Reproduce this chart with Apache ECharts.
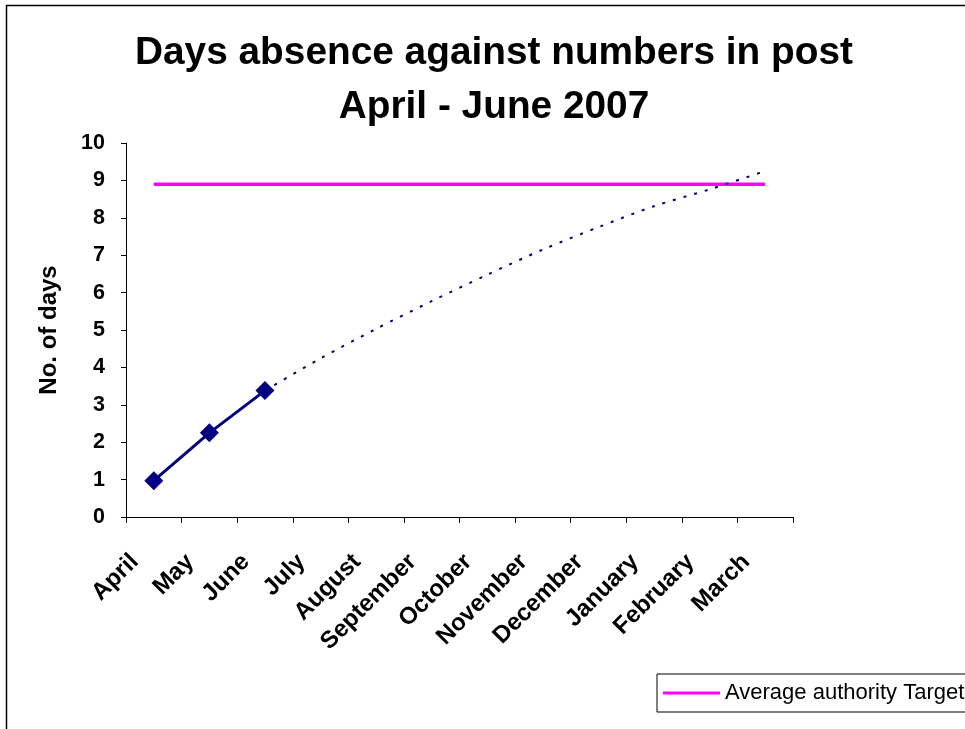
<!DOCTYPE html>
<html>
<head>
<meta charset="utf-8">
<script src="https://cdn.jsdelivr.net/npm/echarts@6/dist/echarts.min.js"></script>
<style>
  html, body { margin: 0; padding: 0; background: #fff; }
  #chart { width: 965px; height: 729px; }
</style>
</head>
<body>
<div id="chart"></div>
<script>
// Months of the financial year
const months = ['April', 'May', 'June', 'July', 'August', 'September',
  'October', 'November', 'December', 'January', 'February', 'March'];

// Cumulative days absence recorded so far
const actualDays = [0.97, 2.25, 3.38, null, null, null, null, null, null, null, null, null];

// Projected trend for the rest of the year, continuing from June
const trendDays = [null, null, 3.38, 4.24, 5.03, 5.77, 6.48, 7.15, 7.75, 8.31, 8.76, 9.25];

// Authority-wide target
const targetValue = 8.9;
const targetDays = months.map(() => targetValue);

const yTicks = { min: 0, max: 10, interval: 1 };

const chartTitle = 'Days absence against numbers in post\nApril - June 2007';

const FONT = 'Liberation Sans, Arial, sans-serif';

const chart = echarts.init(document.getElementById('chart'), null, { renderer: 'canvas' });

chart.setOption({
  animation: false,
  backgroundColor: '#fff',
  textStyle: { fontFamily: FONT },
  graphic: [
    {
      // frame round the chart area
      type: 'rect',
      shape: { x: 6.5, y: 5.5, width: 1200, height: 1200 },
      style: { fill: 'none', stroke: '#000', lineWidth: 1.5 },
      silent: true
    },
    {
      // two-line centred heading
      type: 'text',
      x: 494,
      y: 26,
      silent: true,
      style: {
        text: chartTitle,
        align: 'center',
        verticalAlign: 'top',
        font: 'bold 38.8px ' + FONT,
        lineHeight: 54,
        fill: '#000'
      }
    }
  ],
  legend: {
    data: [{ name: 'Average authority Target', icon: 'rect' }],
    left: 657,
    top: 674,
    orient: 'horizontal',
    itemWidth: 57,
    itemHeight: 3,
    itemGap: 5,
    padding: [8, 60, 8, 6],
    borderColor: '#000',
    borderWidth: 1,
    backgroundColor: '#fff',
    textStyle: { fontSize: 22, color: '#000', fontFamily: FONT }
  },
  grid: { left: 126, right: 172, top: 143, bottom: 212, containLabel: false },
  xAxis: {
    type: 'category',
    data: months,
    boundaryGap: true,
    axisLine: { lineStyle: { color: '#000', width: 1 } },
    axisTick: { show: true, length: 6, lineStyle: { color: '#000' }, alignWithLabel: false },
    axisLabel: {
      rotate: 45,
      interval: 0,
      margin: 22,
      padding: [0, 27, 0, 0],
      fontSize: 24,
      fontWeight: 'bold',
      color: '#000'
    },
    splitLine: { show: false }
  },
  yAxis: {
    type: 'value',
    min: yTicks.min,
    max: yTicks.max,
    interval: yTicks.interval,
    name: 'No. of days',
    nameLocation: 'middle',
    nameGap: 65,
    nameRotate: 90,
    nameTextStyle: { fontSize: 24, fontWeight: 'bold', color: '#000' },
    axisLine: { show: true, lineStyle: { color: '#000', width: 1 } },
    axisTick: { show: true, length: 5, lineStyle: { color: '#000' } },
    axisLabel: { fontSize: 21.5, fontWeight: 'bold', color: '#000', margin: 21 },
    splitLine: { show: false }
  },
  series: [
    {
      name: 'Average authority Target',
      type: 'line',
      data: targetDays,
      symbol: 'none',
      lineStyle: { color: '#FF00FF', width: 3.5 },
      itemStyle: { color: '#FF00FF' },
      z: 2
    },
    {
      name: 'Trend',
      type: 'line',
      data: trendDays,
      symbol: 'none',
      smooth: 0.3,
      lineStyle: { color: '#000080', width: 2, type: [3, 8] },
      itemStyle: { color: '#000080' },
      z: 3
    },
    {
      name: 'Days absence',
      type: 'line',
      data: actualDays,
      symbol: 'diamond',
      symbolSize: 19,
      lineStyle: { color: '#000080', width: 3 },
      itemStyle: { color: '#000080' },
      z: 4
    }
  ]
});
</script>
</body>
</html>
